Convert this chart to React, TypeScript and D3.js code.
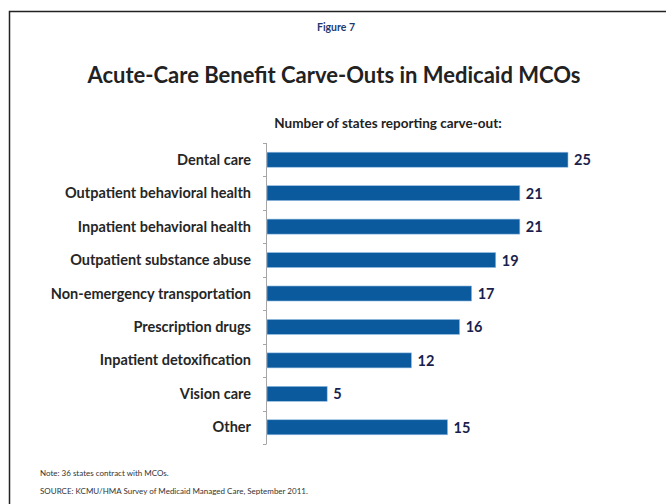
import React, { useRef, useEffect } from 'react';
import * as d3 from 'd3';

// Chart data
const CATEGORIES = [
  'Dental care',
  'Outpatient behavioral health',
  'Inpatient behavioral health',
  'Outpatient substance abuse',
  'Non-emergency transportation',
  'Prescription drugs',
  'Inpatient detoxification',
  'Vision care',
  'Other'
];
const STATE_COUNTS = [25, 21, 21, 19, 17, 16, 12, 5, 15];
const X_DOMAIN_MAX = 25;

const FIGURE_LABEL = 'Figure 7';
const TITLE = 'Acute-Care Benefit Carve-Outs in Medicaid MCOs';
const SUBTITLE = 'Number of states reporting carve-out:';
const NOTES = [
  'Note: 36 states contract with MCOs.',
  'SOURCE:  KCMU/HMA Survey of Medicaid Managed Care, September 2011.'
];

const BAR_COLOR = '#0B5A9E';
const FONT = 'Lato, "Open Sans", sans-serif';

const App: React.FC = () => {
  const svgRef = useRef<SVGSVGElement>(null);

  useEffect(() => {
    if (!svgRef.current) return;
    const svg = d3.select(svgRef.current);
    svg.selectAll('*').remove();

    const width = 666;
    const height = 504;

    svg.append('rect').attr('width', width).attr('height', height).attr('fill', '#fff');

    // Frame around the slide
    svg.append('path')
      .attr('d', `M9.5,${height + 2} V11.5 H${width + 2}`)
      .attr('fill', 'none')
      .attr('stroke', '#222')
      .attr('stroke-width', 1.5);

    // Header texts
    svg.append('text')
      .attr('x', 336).attr('y', 31)
      .attr('text-anchor', 'middle')
      .attr('font-family', FONT).attr('font-weight', 'bold')
      .attr('font-size', 10.5).attr('fill', '#1F3A6E')
      .text(FIGURE_LABEL);

    svg.append('text')
      .attr('x', 334).attr('y', 83)
      .attr('text-anchor', 'middle')
      .attr('font-family', FONT).attr('font-weight', 'bold')
      .attr('font-size', 22).attr('fill', '#222')
      .text(TITLE);

    svg.append('text')
      .attr('x', 388).attr('y', 128)
      .attr('text-anchor', 'middle')
      .attr('font-family', FONT).attr('font-weight', 'bold')
      .attr('font-size', 13.5).attr('fill', '#222')
      .text(SUBTITLE);

    // Scales
    const yScale = d3.scaleBand<string>()
      .domain(CATEGORIES)
      .range([143, 444])
      .paddingInner(0.55)
      .paddingOuter(0.275);

    const xScale = d3.scaleLinear()
      .domain([0, X_DOMAIN_MAX])
      .range([267, 568]);

    // Category axis with ticks on band boundaries
    const axisG = svg.append('g');
    axisG.append('line')
      .attr('x1', 266.5).attr('x2', 266.5)
      .attr('y1', 143).attr('y2', 444)
      .attr('stroke', '#A6A6A6');
    const step = yScale.step();
    d3.range(CATEGORIES.length + 1).forEach(i => {
      const y = Math.round(143 + i * step) + 0.5;
      axisG.append('line')
        .attr('x1', 263).attr('x2', 266.5)
        .attr('y1', y).attr('y2', y)
        .attr('stroke', '#A6A6A6');
    });

    // Category labels
    svg.append('g')
      .selectAll('text')
      .data(CATEGORIES)
      .join('text')
      .attr('x', 251)
      .attr('y', d => (yScale(d) || 0) + yScale.bandwidth() / 2)
      .attr('dy', '0.35em')
      .attr('text-anchor', 'end')
      .attr('font-family', FONT).attr('font-weight', 'bold')
      .attr('font-size', 14.5).attr('fill', '#262626')
      .text(d => d);

    // Bars
    svg.append('g')
      .selectAll('rect')
      .data(STATE_COUNTS)
      .join('rect')
      .attr('x', xScale(0))
      .attr('y', (d, i) => yScale(CATEGORIES[i]) || 0)
      .attr('width', d => xScale(d) - xScale(0))
      .attr('height', yScale.bandwidth())
      .attr('fill', BAR_COLOR)
      .attr('stroke', '#9CC3E6')
      .attr('stroke-width', 0.6);

    // Value labels
    svg.append('g')
      .selectAll('text')
      .data(STATE_COUNTS)
      .join('text')
      .attr('x', d => xScale(d) + 6)
      .attr('y', (d, i) => (yScale(CATEGORIES[i]) || 0) + yScale.bandwidth() / 2)
      .attr('dy', '0.38em')
      .attr('font-family', FONT).attr('font-weight', 'bold')
      .attr('font-size', 14.5).attr('fill', '#1A1F4E')
      .text(d => d);

    // Notes
    svg.append('g')
      .selectAll('text')
      .data(NOTES)
      .join('text')
      .attr('x', 40)
      .attr('y', (d, i) => 476 + i * 18)
      .attr('font-family', FONT)
      .attr('font-size', 8).attr('fill', '#333')
      .text(d => d);
  }, []);

  return (
    <svg
      ref={svgRef}
      width={666}
      height={504}
      style={{ position: 'fixed', left: 0, top: 0, display: 'block' }}
    />
  );
};

export default App;
